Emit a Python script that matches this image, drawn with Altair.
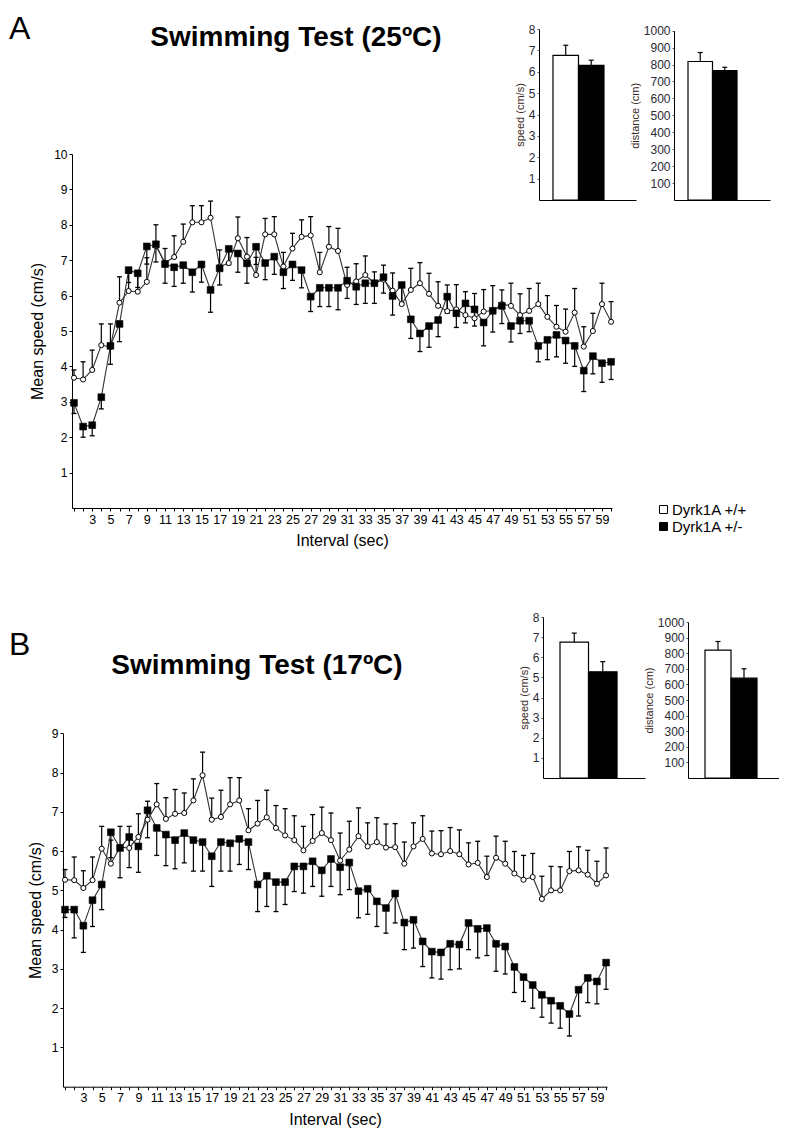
import altair as alt
import pandas as pd

# ---------------- data ----------------
intervals = list(range(1, 61))
x_tick_labels = list(range(3, 60, 2))
groups = ["Dyrk1A +/+", "Dyrk1A +/-"]

# Panel A (25ºC)
a_wt = [3.68, 3.63, 3.9, 4.6, 4.55, 5.8, 6.13, 6.11, 6.39, 7.4,
        6.93, 7.09, 7.52, 8.07, 8.07, 8.2, 6.82, 6.92, 7.62, 7.1,
        6.58, 7.73, 7.73, 6.82, 7.33, 7.66, 7.7, 6.66, 7.38, 7.26,
        6.3, 6.4, 6.58, 6.35, 6.45, 6.14, 5.76, 6.16, 6.35, 6.05,
        5.71, 5.56, 5.61, 5.45, 5.36, 5.55, 5.58, 5.76, 5.71, 5.45,
        5.57, 5.76, 5.4, 5.12, 4.98, 5.52, 4.56, 5.0, 5.76, 5.26]
a_wt_err = [0.22, 0.5, 0.56, 0.6, 0.65, 0.73, 0.5, 0.5, 0.68, 0.6,
            0.4, 0.6, 0.5, 0.47, 0.47, 0.47, 0.47, 0.35, 0.6, 0.54,
            0.5, 0.45, 0.5, 0.4, 0.43, 0.48, 0.53, 0.56, 0.57, 0.64,
            0.5, 0.5, 0.54, 0.32, 0.41, 0.5, 0.5, 0.61, 0.58, 0.58,
            0.68, 0.74, 0.7, 0.66, 0.7, 0.62, 0.7, 0.4, 0.64, 0.6,
            0.63, 0.59, 0.6, 0.6, 0.64, 0.68, 0.56, 0.5, 0.59, 0.57]
a_het = [2.97, 2.3, 2.34, 3.13, 4.58, 5.2, 6.72, 6.63, 7.39, 7.45,
         6.89, 6.8, 6.86, 6.66, 6.88, 6.16, 6.77, 7.32, 7.19, 6.91,
         7.38, 6.92, 7.1, 6.66, 6.88, 6.72, 5.97, 6.22, 6.22, 6.22,
         6.42, 6.25, 6.35, 6.35, 6.52, 5.99, 6.3, 5.33, 4.93, 5.14,
         5.31, 5.97, 5.5, 5.78, 5.61, 5.24, 5.57, 5.71, 5.14, 5.29,
         5.29, 4.58, 4.75, 4.89, 4.73, 4.58, 3.88, 4.29, 4.09, 4.13]
a_het_err = [0.3, 0.3, 0.3, 0.33, 0.52, 0.5, 0.35, 0.4, 0.5, 0.5,
             0.54, 0.54, 0.51, 0.56, 0.5, 0.63, 0.47, 0.45, 0.53, 0.56,
             0.5, 0.47, 0.5, 0.46, 0.45, 0.5, 0.42, 0.53, 0.53, 0.62,
             0.5, 0.5, 0.57, 0.57, 0.45, 0.54, 0.5, 0.54, 0.51, 0.6,
             0.47, 0.47, 0.4, 0.55, 0.47, 0.66, 0.6, 0.5, 0.45, 0.36,
             0.31, 0.45, 0.56, 0.62, 0.64, 0.58, 0.59, 0.5, 0.54, 0.5]

# Panel B (17ºC)
b_wt = [5.27, 5.26, 5.06, 5.26, 6.06, 5.68, 6.1, 6.08, 6.36, 6.8,
        7.19, 6.82, 6.95, 6.97, 7.29, 7.93, 6.8, 6.87, 7.19, 7.29,
        6.53, 6.7, 6.86, 6.59, 6.4, 6.28, 6.02, 6.26, 6.46, 6.28,
        5.76, 6.04, 6.38, 6.12, 6.23, 6.09, 6.1, 5.68, 6.12, 6.31,
        5.94, 5.92, 6.0, 5.92, 5.66, 5.7, 5.34, 5.83, 5.68, 5.43,
        5.27, 5.34, 4.78, 5.0, 5.0, 5.49, 5.51, 5.4, 5.17, 5.38]
b_wt_err = [0.26, 0.59, 0.44, 0.59, 0.57, 0.6, 0.53, 0.55, 0.59, 0.47,
            0.53, 0.54, 0.62, 0.51, 0.55, 0.59, 0.55, 0.68, 0.68, 0.58,
            0.55, 0.59, 0.69, 0.57, 0.68, 0.62, 0.61, 0.67, 0.66, 0.69,
            0.7, 0.72, 0.72, 0.6, 0.62, 0.6, 0.6, 0.55, 0.6, 0.59,
            0.57, 0.6, 0.6, 0.62, 0.55, 0.55, 0.53, 0.55, 0.57, 0.56,
            0.62, 0.6, 0.58, 0.61, 0.6, 0.5, 0.6, 0.62, 0.57, 0.7]
b_het = [4.51, 4.51, 4.1, 4.75, 5.15, 6.48, 6.08, 6.36, 6.12, 7.04,
         6.59, 6.42, 6.28, 6.46, 6.28, 6.23, 5.87, 6.23, 6.2, 6.31,
         6.23, 5.15, 5.37, 5.21, 5.21, 5.61, 5.61, 5.74, 5.51, 5.8,
         5.59, 5.71, 4.98, 5.04, 4.72, 4.55, 4.92, 4.18, 4.25, 3.7,
         3.44, 3.42, 3.64, 3.62, 4.17, 4.02, 4.04, 3.64, 3.57, 3.05,
         2.79, 2.59, 2.34, 2.19, 2.06, 1.85, 2.47, 2.77, 2.68, 3.16]
b_het_err = [0.2, 0.72, 0.68, 0.67, 0.64, 0.65, 0.76, 0.78, 0.66, 0.7,
             0.7, 0.79, 0.73, 0.76, 0.79, 0.74, 0.77, 0.74, 0.71, 0.65,
             0.7, 0.69, 0.78, 0.75, 0.57, 0.64, 0.68, 0.64, 0.66, 0.7,
             0.7, 0.69, 0.68, 0.65, 0.64, 0.64, 0.75, 0.69, 0.72, 0.64,
             0.67, 0.68, 0.66, 0.62, 0.68, 0.74, 0.7, 0.7, 0.7, 0.65,
             0.62, 0.59, 0.57, 0.57, 0.57, 0.56, 0.67, 0.63, 0.57, 0.68]

# Insets (total speed / distance)
a_speed = [6.77, 6.3]
a_speed_err = [0.47, 0.24]
a_dist = [818, 764]
a_dist_err = [53, 20]
b_speed = [6.75, 5.28]
b_speed_err = [0.45, 0.5]
b_dist = [820, 640]
b_dist_err = [55, 60]

# ---------------- layout ----------------
W, H = 771, 1122
FONT = "Liberation Sans"


def series_frame(wt, wt_err, het, het_err):
    rows = []
    for i, (m, e) in enumerate(zip(wt, wt_err)):
        rows.append({"interval": intervals[i], "group": groups[0], "mean": m,
                     "lo": m, "hi": m + e, "cap": m + e})
    for i, (m, e) in enumerate(zip(het, het_err)):
        rows.append({"interval": intervals[i], "group": groups[1], "mean": m,
                     "lo": m - e, "hi": m, "cap": m - e})
    return pd.DataFrame(rows)


fill_scale = alt.Scale(domain=groups, range=["white", "black"])
legend = alt.Legend(orient="none", legendX=648, legendY=494, title=None,
                    symbolType="square", symbolSize=64, symbolStrokeColor="black",
                    symbolStrokeWidth=1, labelFont=FONT, labelFontSize=15,
                    labelColor="black", rowPadding=1, labelOffset=1)

label_expr = ("indexof([" + ",".join(str(v) for v in x_tick_labels)
              + "], datum.value) >= 0 ? datum.label : ''")


def main_panel(df, x_range, y_range, y_max, x_axis_y, y_axis_x):
    xs = alt.Scale(domain=[0.78, 60.1], range=x_range, nice=False, zero=False)
    ys = alt.Scale(domain=[0, y_max], range=y_range, nice=False, zero=False)
    xa = alt.Axis(orient="bottom", offset=x_axis_y - H, values=intervals,
                  labelExpr=label_expr, tickSize=3, labelFontSize=12.5,
                  labelPadding=2, labelFlush=False, labelOverlap=False,
                  labelFont=FONT, title="Interval (sec)", titleFont=FONT,
                  titleFontSize=16, titleFontWeight="normal", titlePadding=7,
                  grid=False, domainColor="black", tickColor="black",
                  labelColor="black", titleColor="black")
    ya = alt.Axis(orient="left", offset=-y_axis_x, values=list(range(1, y_max + 1)),
                  tickSize=3, labelFontSize=12, labelPadding=2, labelFont=FONT,
                  title="Mean speed (cm/s)", titleFont=FONT, titleFontSize=16,
                  titleFontWeight="normal", titlePadding=8, grid=False,
                  domainColor="black", tickColor="black", labelColor="black",
                  titleColor="black")
    base = alt.Chart(df)
    X = alt.X("interval:Q", scale=xs, axis=xa)
    lines = base.mark_line(color="#333", strokeWidth=1.1).encode(
        X, alt.Y("mean:Q", scale=ys, axis=ya), detail="group:N")
    bars = base.mark_rule(color="black", strokeWidth=1.2).encode(
        X, alt.Y("lo:Q", scale=ys, axis=ya), y2="hi:Q")
    caps = base.mark_tick(orient="horizontal", size=5, thickness=1.3,
                          color="black", opacity=1).encode(
        X, alt.Y("cap:Q", scale=ys, axis=ya))
    wt_pts = base.transform_filter(alt.datum.group == groups[0]).mark_point(
        shape="circle", size=26, filled=True, stroke="black", strokeWidth=1,
        opacity=1).encode(
        X, alt.Y("mean:Q", scale=ys, axis=ya),
        fill=alt.Fill("group:N", scale=fill_scale, legend=legend))
    het_pts = base.transform_filter(alt.datum.group == groups[1]).mark_square(
        size=46, stroke="black", strokeWidth=0.6, opacity=1).encode(
        X, alt.Y("mean:Q", scale=ys, axis=ya),
        fill=alt.Fill("group:N", scale=fill_scale, legend=legend))
    return alt.layer(bars, caps, lines, wt_pts, het_pts)


def inset(vals, errs, x_range, pad_outer, align, y_range, y_max, y_step,
          y_title, baseline_y, axis_x):
    df = pd.DataFrame({"group": groups, "value": vals,
                       "top": [v + e for v, e in zip(vals, errs)],
                       "fillc": ["white", "black"]})
    xs = alt.Scale(domain=groups, range=x_range, paddingInner=0,
                   paddingOuter=pad_outer, align=align)
    ys = alt.Scale(domain=[0, y_max], range=y_range, nice=False, zero=True)
    xa = alt.Axis(orient="bottom", offset=baseline_y - H, labels=False,
                  ticks=False, title=None, domainColor="black", grid=False)
    ya = alt.Axis(orient="left", offset=-axis_x,
                  values=list(range(y_step, y_max + 1, y_step)), format="d",
                  tickSize=2, labelFontSize=12, labelPadding=2, labelFont=FONT,
                  labelColor="#2a2a35", title=y_title, titleFont=FONT,
                  titleFontSize=11, titleFontWeight="normal", titlePadding=3,
                  titleColor="#3a2a25", grid=False, domainColor="black",
                  tickColor="#555")
    base = alt.Chart(df)
    X = alt.X("group:N", scale=xs, axis=xa, sort=groups)
    bars = base.mark_bar(stroke="black", strokeWidth=1.2).encode(
        X, alt.Y("value:Q", scale=ys, axis=ya),
        fill=alt.Fill("fillc:N", scale=None))
    err = base.mark_rule(color="black", strokeWidth=1.2).encode(
        X, alt.Y("value:Q", scale=ys, axis=ya), y2="top:Q")
    cap = base.mark_tick(orient="horizontal", size=5, thickness=1.2,
                         color="black", opacity=1).encode(
        X, alt.Y("top:Q", scale=ys, axis=ya))
    return alt.layer(bars, err, cap)


def text_layer(txt, x, y, size, weight="normal", align="left"):
    return alt.Chart(pd.DataFrame({"t": [txt]})).mark_text(
        font=FONT, fontSize=size, fontWeight=weight, align=align,
        baseline="alphabetic", color="black").encode(
        text="t:N", x=alt.value(x), y=alt.value(y))


main_a = main_panel(series_frame(a_wt, a_wt_err, a_het, a_het_err),
                    [64, 604], [500, 146], 10, 500, 64)
main_b = main_panel(series_frame(b_wt, b_wt_err, b_het, b_het_err),
                    [55, 599], [1078.7, 725.3], 9, 1078.7, 55)

inset_a1 = inset(a_speed, a_speed_err, [531, 628], 0.902, 0.304,
                 [192, 21], 8, 1, "speed (cm/s)", 192, 531)
inset_a2 = inset(a_dist, a_dist_err, [666, 762], 0.959, 0.298,
                 [192, 22.7], 1000, 100, "distance (cm)", 192, 666)
inset_b1 = inset(b_speed, b_speed_err, [535, 637], 0.789, 0.378,
                 [770, 609], 8, 1, "speed (cm/s)", 770, 535)
inset_b2 = inset(b_dist, b_dist_err, [680, 771], 0.75, 0.436,
                 [770, 614], 1000, 100, "distance (cm)", 770, 680)

annotations = [
    text_layer("A", 1, 31, 32),
    text_layer("Swimming Test (25ºC)", 288, 38, 28, "bold", "center"),
    text_layer("B", 1, 647, 32),
    text_layer("Swimming Test (17ºC)", 249, 666, 28, "bold", "center"),
]

chart = alt.layer(main_a, inset_a1, inset_a2, main_b, inset_b1, inset_b2,
                  *annotations).resolve_scale(
    x="independent", y="independent").properties(
    width=W, height=H, padding=0,
    autosize=alt.AutoSizeParams(type="none")).configure_view(stroke=None)

chart.save("out.html", embed_options={"renderer": "svg", "actions": False})
